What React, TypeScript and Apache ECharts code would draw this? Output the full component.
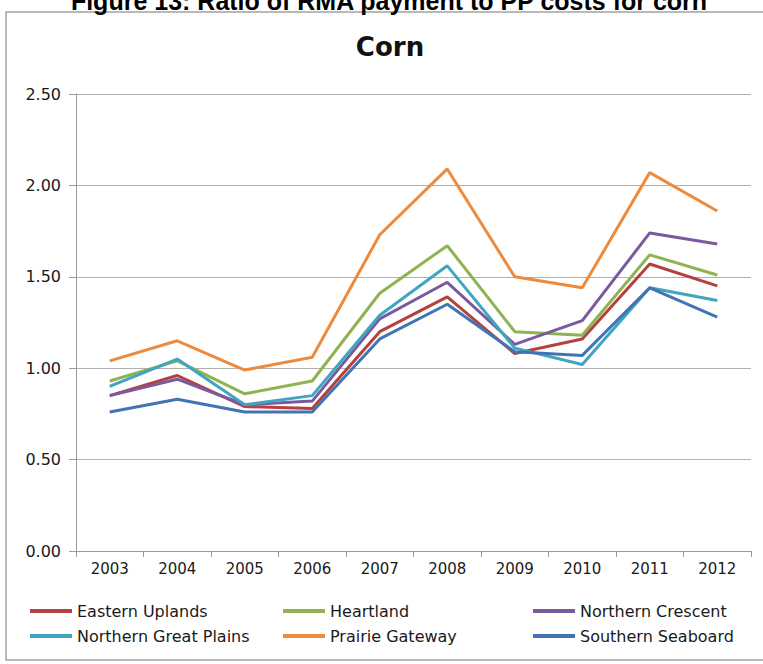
import React, { useEffect, useRef } from "react";
import * as echarts from "echarts";

// Corn: ratio of RMA payment to PP costs by farm resource region
const years = ["2003", "2004", "2005", "2006", "2007", "2008", "2009", "2010", "2011", "2012"];
const yTicks = { min: 0, max: 2.5, interval: 0.5 };

const easternUplands = [0.85, 0.96, 0.79, 0.78, 1.2, 1.39, 1.08, 1.16, 1.57, 1.45];
const heartland = [0.93, 1.04, 0.86, 0.93, 1.41, 1.67, 1.2, 1.18, 1.62, 1.51];
const northernCrescent = [0.85, 0.94, 0.8, 0.82, 1.27, 1.47, 1.13, 1.26, 1.74, 1.68];
const northernGreatPlains = [0.9, 1.05, 0.8, 0.85, 1.29, 1.56, 1.11, 1.02, 1.44, 1.37];
const prairieGateway = [1.04, 1.15, 0.99, 1.06, 1.73, 2.09, 1.5, 1.44, 2.07, 1.86];
const southernSeaboard = [0.76, 0.83, 0.76, 0.76, 1.16, 1.35, 1.09, 1.07, 1.44, 1.28];

const seriesNames = [
  "Eastern Uplands",
  "Heartland",
  "Northern Crescent",
  "Northern Great Plains",
  "Prairie Gateway",
  "Southern Seaboard",
];
const seriesData = [
  easternUplands,
  heartland,
  northernCrescent,
  northernGreatPlains,
  prairieGateway,
  southernSeaboard,
];
const seriesColors = ["#b5403e", "#8fb351", "#7a5a9e", "#3fa5c0", "#ee8a3c", "#4274b5"];

// legend slots: [left, top] for each series, three columns by two rows
const legendSlots: [number, number][] = [
  [30, 603],
  [283, 603],
  [533, 603],
  [30, 628],
  [283, 628],
  [533, 628],
];

const FONT = "DejaVu Sans";

export default function App() {
  const ref = useRef<HTMLDivElement>(null);

  useEffect(() => {
    if (!ref.current) return;
    const chart = echarts.init(ref.current, null, { renderer: "svg" });

    const legends = seriesNames.map((name, i) => ({
      data: [name],
      left: legendSlots[i][0],
      top: legendSlots[i][1],
      icon: "rect",
      itemWidth: 42,
      itemHeight: 4,
      padding: 0,
      textStyle: { fontFamily: FONT, fontSize: 16, color: "#1a1a1a" },
      selectedMode: false,
    }));

    chart.setOption({
      animation: false,
      backgroundColor: "#ffffff",
      graphic: [
        {
          type: "rect",
          shape: { x: 6, y: 12, width: 780, height: 648 },
          style: { fill: "none", stroke: "#a3a3a3", lineWidth: 1.5 },
          silent: true,
        },
        {
          type: "text",
          x: 389,
          y: 13,
          style: {
            text: "Figure 13: Ratio of RMA payment to PP costs for corn",
            fontFamily: "Liberation Sans",
            fontWeight: "bold",
            fontSize: 25,
            fill: "#000000",
            textAlign: "center",
            textVerticalAlign: "bottom",
          },
        },
        {
          type: "text",
          x: 390,
          y: 47,
          style: {
            text: "Corn",
            fontFamily: FONT,
            fontWeight: "bold",
            fontSize: 26,
            fill: "#111111",
            textAlign: "center",
            textVerticalAlign: "middle",
          },
        },
      ],
      legend: legends,
      grid: { left: 76, right: 12, top: 94, bottom: 113, containLabel: false },
      xAxis: {
        type: "category",
        data: years,
        boundaryGap: true,
        axisLine: { show: true, lineStyle: { color: "#9a9a9a", width: 1 } },
        axisTick: { show: true, length: 6, lineStyle: { color: "#9a9a9a" } },
        axisLabel: { fontFamily: FONT, fontSize: 15, color: "#1a1a1a", margin: 10 },
        splitLine: { show: false },
      },
      yAxis: {
        type: "value",
        min: yTicks.min,
        max: yTicks.max,
        interval: yTicks.interval,
        axisLine: { show: true, lineStyle: { color: "#9a9a9a", width: 1 } },
        axisTick: { show: true, length: 7, lineStyle: { color: "#9a9a9a" } },
        axisLabel: {
          fontFamily: FONT,
          fontSize: 16,
          color: "#1a1a1a",
          margin: 15,
          formatter: (v: number) => v.toFixed(2),
        },
        splitLine: { show: true, lineStyle: { color: "#b0b0b0", width: 1 } },
      },
      series: seriesNames.map((name, i) => ({
        name,
        type: "line",
        data: seriesData[i],
        showSymbol: false,
        symbol: "none",
        lineStyle: { color: seriesColors[i], width: 3 },
        itemStyle: { color: seriesColors[i] },
        emphasis: { disabled: true },
      })),
    });

    return () => chart.dispose();
  }, []);

  return <div ref={ref} style={{ width: 763, height: 664, position: "absolute", left: 0, top: 0 }} />;
}
